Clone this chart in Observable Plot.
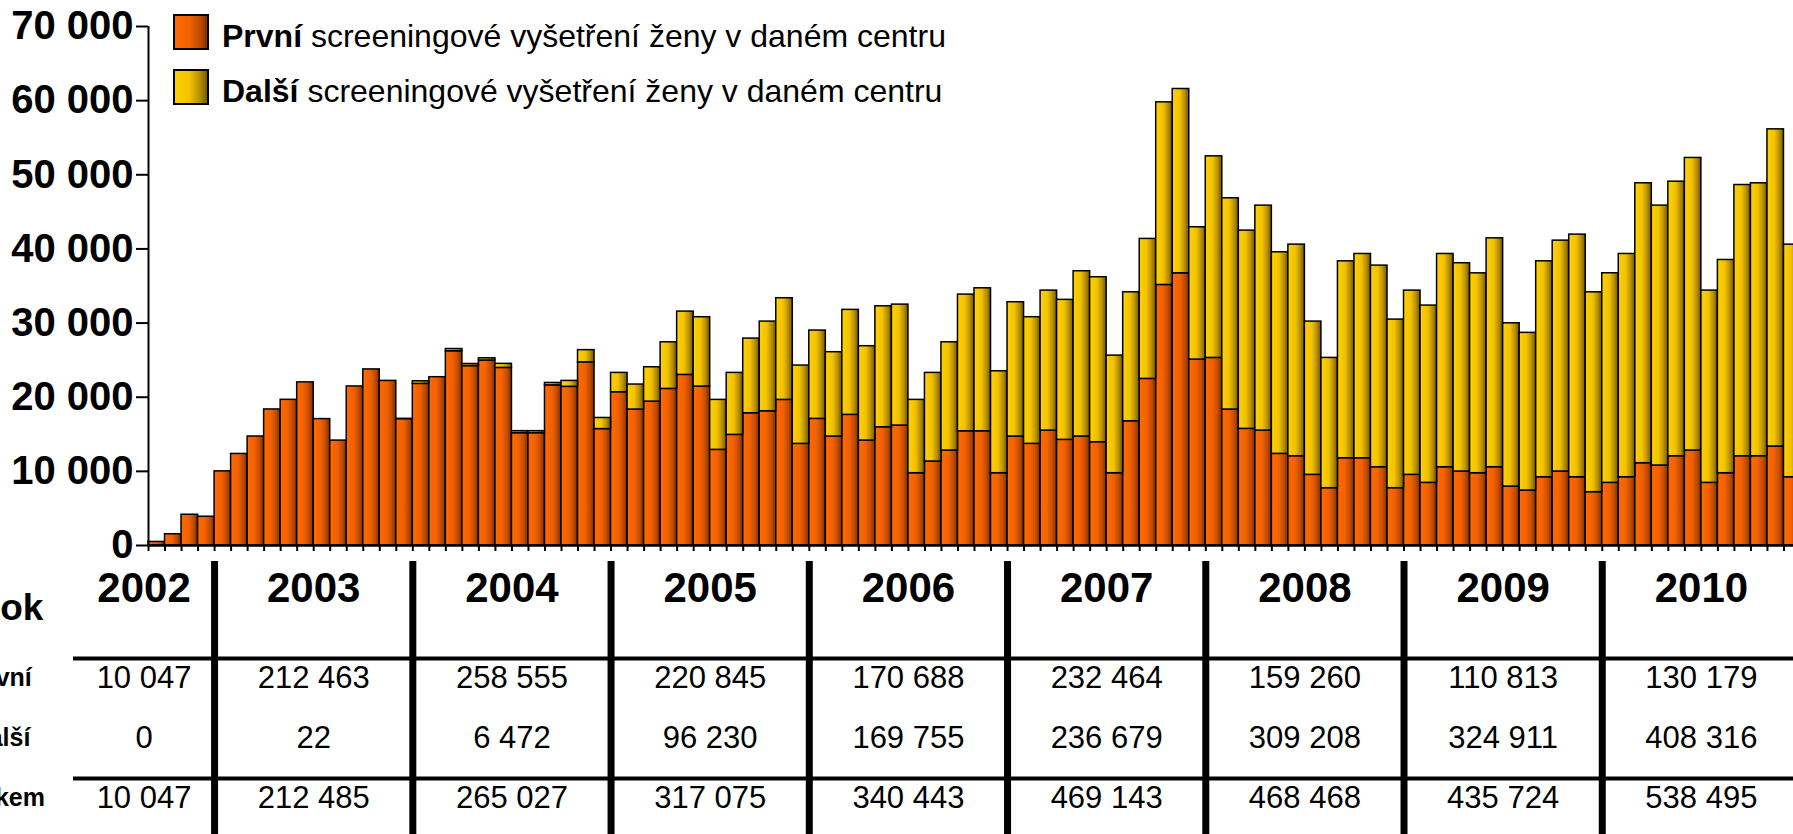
<!DOCTYPE html>
<html>
<head>
<meta charset="utf-8">
<script src="https://cdn.jsdelivr.net/npm/d3@7"></script>
<script src="https://cdn.jsdelivr.net/npm/@observablehq/plot@0.6"></script>
<style>
  html, body { margin: 0; padding: 0; overflow: hidden; background: #fff; }
  #wrap { position: relative; width: 1793px; height: 834px; overflow: hidden; background: #fff; }
  #wrap svg { display: block; max-width: none !important; position: absolute; left: 0; }
  svg.chart { background: transparent !important; }
  svg.chart, svg.table, svg.legend { font-family: "Liberation Sans", Arial, sans-serif; color: #000; }
  svg.chart [aria-label^="y-axis"] text { font-size: 40px !important; font-weight: bold !important; fill: #000; }
  svg.chart [aria-label^="y-axis"], svg.chart [aria-label^="x-axis"] { stroke-width: 2px; }
  svg.chart [aria-label^="y-axis"] line, svg.chart [aria-label^="x-axis"] line { stroke-width: 2px; }
</style>
</head>
<body>
<svg width="0" height="0" style="position:absolute">
  <defs>
    <linearGradient id="gradPrvni" x1="0" y1="0" x2="1" y2="0">
      <stop offset="0" stop-color="#ff6a00"/>
      <stop offset="0.45" stop-color="#f26100"/>
      <stop offset="0.75" stop-color="#c24c00"/>
      <stop offset="1" stop-color="#7a2e00"/>
    </linearGradient>
    <linearGradient id="gradDalsi" x1="0" y1="0" x2="1" y2="0">
      <stop offset="0" stop-color="#ffd200"/>
      <stop offset="0.45" stop-color="#f2c200"/>
      <stop offset="0.75" stop-color="#b89000"/>
      <stop offset="1" stop-color="#6e5600"/>
    </linearGradient>
  </defs>
</svg>
<div id="wrap"></div>
<script>
// ---------- DATA ----------
const years = [2002, 2003, 2004, 2005, 2006, 2007, 2008, 2009, 2010];
const monthsPerYear = [4, 12, 12, 12, 12, 12, 12, 12, 12];

// monthly counts, Sep 2002 – Dec 2010
const prvniMonthly = [
  480, 1520, 4150, 3880,
  10000, 12350, 14700, 18350, 19650, 22000, 17050, 14150, 21450, 23750, 22200, 17050,
  21800, 22700, 26200, 24200, 24950, 23950, 15150, 15150, 21600, 21400, 24700, 15700,
  20670, 18340, 19410, 21120, 23010, 21440, 12900, 14920, 17840, 18110, 19640, 13710,
  17080, 14700, 17620, 14160, 15950, 16180, 9750, 11330, 12810, 15410, 15410, 9750,
  14700, 13710, 15500, 14250, 14700, 13930, 9750, 16760, 22470, 35140, 36720, 25080,
  25300, 18340, 15730, 15500, 12360, 12040, 9530, 7730, 11770, 11770, 10560, 7730,
  9530, 8450, 10560, 9980, 9750, 10560, 7950, 7420, 9210, 9980, 9210, 7190,
  8450, 9210, 11100, 10790, 12040, 12810, 8450, 9750, 12040, 12040, 13350, 9210
];
const dalsiMonthly = [
  0, 0, 0, 0,
  0, 0, 0, 0, 0, 0, 0, 0, 0, 0, 0, 22,
  350, 0, 300, 280, 300, 550, 270, 270, 320, 800, 1650, 1500,
  2610, 3370, 4630, 6290, 8540, 9350, 6740, 8360, 10070, 12090, 13710, 10560,
  11910, 11370, 14160, 12720, 16310, 16310, 9890, 11950, 14600, 18430, 19280, 13750,
  18110, 17080, 18880, 18880, 22290, 22250, 15860, 17390, 18880, 24630, 24850, 17840,
  27190, 28490, 26740, 30340, 27190, 28540, 20670, 17570, 26560, 27550, 27190, 22740,
  24850, 23910, 28760, 28090, 26960, 30870, 22020, 21260, 29120, 31140, 32720, 26960,
  28270, 30110, 37750, 35050, 37030, 39460, 25930, 28760, 36580, 36810, 42780, 31370
];

// yearly table
const rowNames = ["Rok", "První", "Další", "Celkem"];
const prvniYearly = [10047, 212463, 258555, 220845, 170688, 232464, 159260, 110813, 130179];
const dalsiYearly = [0, 22, 6472, 96230, 169755, 236679, 309208, 324911, 408316];
const celkemYearly = [10047, 212485, 265027, 317075, 340443, 469143, 468468, 435724, 538495];

// axis / legend text
const yTicks = [0, 10000, 20000, 30000, 40000, 50000, 60000, 70000];
const seriesNames = ["První", "Další"];
const legendSuffix = " screeningové vyšetření ženy v daném centru";

// ---------- LAYOUT ----------
const W = 1810;
const chartH = 580, tableTop = 556, tableH = 834 - 556;
const left = 148, right = 1800, zeroY = 545;
const fmt = d => d3.format(",")(d).replace(/,/g, " ");

// bars (stacked manually)
const bars = [];
prvniMonthly.forEach((v, i) => {
  bars.push({series: "První", x1: i, x2: i + 1, y1: 0, y2: v});
  bars.push({series: "Další", x1: i, x2: i + 1, y1: v, y2: v + dalsiMonthly[i]});
});
const nMonths = prvniMonthly.length;

const chart = Plot.plot({
  width: W, height: chartH,
  marginLeft: left, marginRight: W - right, marginTop: 26, marginBottom: chartH - zeroY,
  x: {domain: [0, nMonths], ticks: d3.range(0, nMonths + 1), tickSize: 6, tickFormat: () => "", label: null},
  y: {domain: [0, 70000], ticks: yTicks, tickSize: 12, tickPadding: 3, tickFormat: fmt, label: null},
  marks: [
    Plot.rect(bars.filter(d => d.series === "První"), {x1: "x1", x2: "x2", y1: "y1", y2: "y2", fill: "url(#gradPrvni)", stroke: "black", strokeWidth: 1.5}),
    Plot.rect(bars.filter(d => d.series === "Další"), {x1: "x1", x2: "x2", y1: "y1", y2: "y2", fill: "url(#gradDalsi)", stroke: "black", strokeWidth: 1.5}),
    Plot.ruleY([0], {stroke: "black", strokeWidth: 2.5}),
    Plot.ruleX([0], {y1: 0, y2: 70000, stroke: "black", strokeWidth: 2})
  ]
});
chart.classList.add("chart");
chart.style.top = "0px";

// table
const starts = [], ends = [];
let acc = 0;
monthsPerYear.forEach(m => { starts.push(acc); acc += m; ends.push(acc); });
const pxPerMonth = (right - left) / nMonths;
const tableLeftPx = 73;
const tableLeftIdx = (tableLeftPx - left) / pxPerMonth;
const labelIdx = (0 - left) / pxPerMonth;
const colCenter = years.map((y, i) => ((i === 0 ? tableLeftIdx : starts[i]) + ends[i]) / 2);

const cells = [];
years.forEach((y, i) => {
  cells.push({cx: colCenter[i], row: "První", text: fmt(prvniYearly[i])});
  cells.push({cx: colCenter[i], row: "Další", text: fmt(dalsiYearly[i])});
  cells.push({cx: colCenter[i], row: "Celkem", text: fmt(celkemYearly[i])});
});
const headers = years.map((y, i) => ({cx: colCenter[i], row: "Rok", text: String(y)}));

const table = Plot.plot({
  width: W, height: tableH,
  marginLeft: tableLeftPx, marginRight: W - right, marginTop: 5, marginBottom: 0,
  x: {domain: [0, nMonths], range: [left, right], axis: null},
  y: {type: "point", domain: rowNames, range: [70, 251.5], padding: 0, axis: null},
  marks: [
    Plot.ruleX(ends.slice(0, -1), {stroke: "black", strokeWidth: 7}),
    Plot.ruleY(["První", "Celkem"], {stroke: "black", strokeWidth: 4, dy: -29}),
    Plot.text(headers, {x: "cx", y: "row", text: "text", fontSize: 42, fontWeight: "bold", lineAnchor: "bottom", dy: -26, fill: "black"}),
    Plot.text(cells, {x: "cx", y: "row", text: "text", fontSize: 31, lineAnchor: "bottom", fill: "black"}),
    Plot.text(["Rok"], {x: () => labelIdx, y: d => d, text: d => d, fontSize: 37, fontWeight: "bold", lineAnchor: "bottom", dy: -8, dx: 8, fill: "black"}),
    Plot.text(rowNames.slice(1), {x: () => labelIdx, y: d => d, text: d => d, fontSize: 25, fontWeight: "bold", lineAnchor: "bottom", dy: -2, fill: "black"})
  ]
});
table.classList.add("table");
table.style.top = tableTop + "px";

const wrap = document.getElementById("wrap");
wrap.appendChild(table);
wrap.appendChild(chart);

// legend
const leg = d3.select(wrap).append("svg")
  .attr("class", "legend")
  .attr("width", 1000).attr("height", 120)
  .style("top", "0px").style("left", "0px");
const gradIds = ["gradPrvni", "gradDalsi"];
seriesNames.forEach((s, i) => {
  const g = leg.append("g").attr("transform", `translate(173,${14 + i * 55})`);
  g.append("rect").attr("x", 1).attr("y", 1).attr("width", 34).attr("height", 34)
    .attr("fill", `url(#${gradIds[i]})`).attr("stroke", "black").attr("stroke-width", 2);
  const t = g.append("text").attr("x", 49).attr("y", 33).attr("font-size", 32)
    .style("white-space", "pre").attr("fill", "black");
  t.append("tspan").attr("font-weight", "bold").text(s);
  t.append("tspan").text(legendSuffix);
});
</script>
</body>
</html>
